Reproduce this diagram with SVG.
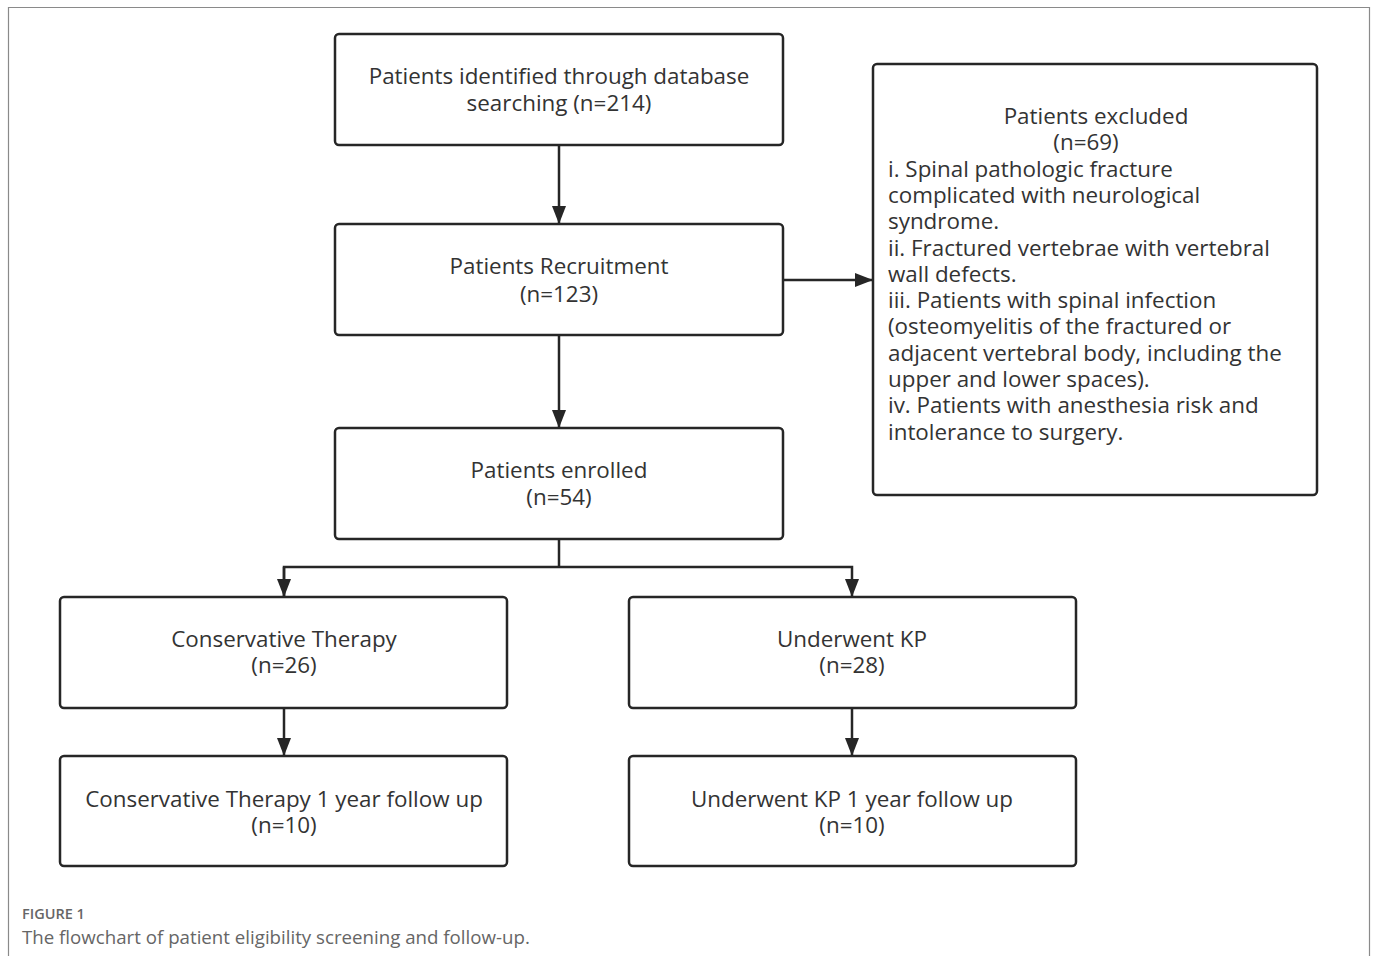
<svg xmlns="http://www.w3.org/2000/svg" width="1375" height="956" viewBox="0 0 1375 956">
<style>
.box{fill:#fff;stroke:#262626;stroke-width:2.5}
.t{font-family:"Open Sans","Noto Sans",sans-serif;font-size:22.4px;fill:#333}
.c{text-anchor:middle}
.ln{fill:none;stroke:#262626;stroke-width:2.5}
</style>
<defs>
<marker id="ah" markerWidth="18" markerHeight="14" viewBox="0 0 18 14" refX="18" refY="7" orient="auto" markerUnits="userSpaceOnUse">
<path d="M0,0 L18,7 L0,14 Z" fill="#262626"/>
</marker>
</defs>
<rect width="1375" height="956" fill="#fff"/>
<path d="M8.5,956 V7.5 H1369.5 V956" fill="none" stroke="#8a8a8a" stroke-width="1.2"/>
<g id="connectors">
<line class="ln" x1="559" y1="145" x2="559" y2="224" marker-end="url(#ah)"/>
<line class="ln" x1="783" y1="280" x2="873" y2="280" marker-end="url(#ah)"/>
<line class="ln" x1="559" y1="335" x2="559" y2="428" marker-end="url(#ah)"/>
<polyline class="ln" points="559,539 559,567"/>
<polyline class="ln" points="284,597 284,567 852,567 852,597" marker-end="url(#ah)"/>
<line class="ln" x1="284" y1="567" x2="284" y2="597" marker-end="url(#ah)"/>
<line class="ln" x1="284" y1="708" x2="284" y2="756" marker-end="url(#ah)"/>
<line class="ln" x1="852" y1="708" x2="852" y2="756" marker-end="url(#ah)"/>
</g>
<g id="n1">
<rect class="box" x="335" y="34" width="448" height="111" rx="4"/>
<text class="t c" x="559" y="84">Patients identified through database</text>
<text class="t c" x="559" y="111">searching (n=214)</text>
</g>
<g id="n2">
<rect class="box" x="335" y="224" width="448" height="111" rx="4"/>
<text class="t c" x="559" y="274">Patients Recruitment</text>
<text class="t c" x="559" y="302">(n=123)</text>
</g>
<g id="n3">
<rect class="box" x="335" y="428" width="448" height="111" rx="4"/>
<text class="t c" x="559" y="478">Patients enrolled</text>
<text class="t c" x="559" y="505">(n=54)</text>
</g>
<g id="excluded">
<rect class="box" x="873" y="64" width="444" height="431" rx="4"/>
<text class="t c" x="1096" y="124">Patients excluded</text>
<text class="t c" x="1086" y="150">(n=69)</text>
<text class="t" x="888" y="177">i. Spinal pathologic fracture</text>
<text class="t" x="888" y="203">complicated with neurological</text>
<text class="t" x="888" y="229">syndrome.</text>
<text class="t" x="888" y="256">ii. Fractured vertebrae with vertebral</text>
<text class="t" x="888" y="282">wall defects.</text>
<text class="t" x="888" y="308">iii. Patients with spinal infection</text>
<text class="t" x="888" y="334">(osteomyelitis of the fractured or</text>
<text class="t" x="888" y="361">adjacent vertebral body, including the</text>
<text class="t" x="888" y="387">upper and lower spaces).</text>
<text class="t" x="888" y="413">iv. Patients with anesthesia risk and</text>
<text class="t" x="888" y="440">intolerance to surgery.</text>
</g>
<g id="n4">
<rect class="box" x="60" y="597" width="447" height="111" rx="4"/>
<text class="t c" x="284" y="647">Conservative Therapy</text>
<text class="t c" x="284" y="673">(n=26)</text>
</g>
<g id="n5">
<rect class="box" x="629" y="597" width="447" height="111" rx="4"/>
<text class="t c" x="852" y="647">Underwent KP</text>
<text class="t c" x="852" y="673">(n=28)</text>
</g>
<g id="n6">
<rect class="box" x="60" y="756" width="447" height="110" rx="4"/>
<text class="t c" x="284" y="807">Conservative Therapy 1 year follow up</text>
<text class="t c" x="284" y="833">(n=10)</text>
</g>
<g id="n7">
<rect class="box" x="629" y="756" width="447" height="110" rx="4"/>
<text class="t c" x="852" y="807">Underwent KP 1 year follow up</text>
<text class="t c" x="852" y="833">(n=10)</text>
</g>
<g id="caption">
<text x="22" y="919" font-family="'Open Sans','Noto Sans',sans-serif" font-size="14.5" font-weight="600" fill="#666">FIGURE 1</text>
<text x="22" y="944" font-family="'Open Sans','Noto Sans',sans-serif" font-size="18.7" fill="#666">The flowchart of patient eligibility screening and follow-up.</text>
</g>
</svg>
